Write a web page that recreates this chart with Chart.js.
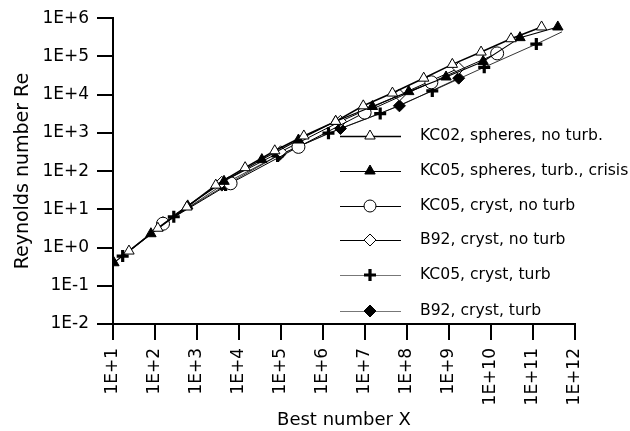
<!DOCTYPE html>
<html>
<head>
<meta charset="utf-8">
<script src="https://cdn.jsdelivr.net/npm/chart.js@4/dist/chart.umd.min.js"></script>
<style>
  html, body { margin: 0; padding: 0; background: #fff; overflow: hidden; }
  #wrap { width: 630px; height: 431px; }
</style>
</head>
<body>
<div id="wrap"><canvas id="reChart"></canvas></div>
<script>
// tick labels
const xTickLabels = ['1E+1','1E+2','1E+3','1E+4','1E+5','1E+6','1E+7','1E+8','1E+9','1E+10','1E+11','1E+12'];
const yTickLabels = ['1E-2','1E-1','1E+0','1E+1','1E+2','1E+3','1E+4','1E+5','1E+6'];

// KC02, spheres, no turb.
const kc02X = [24, 117, 575, 2800, 1.4e4, 7.1e4, 3.5e5, 2.0e6, 9.1e6, 4.5e7, 2.5e8, 1.2e9, 5.8e9, 3.0e10, 1.6e11];
const kc02Re = [0.81, 3.2, 11.5, 43, 123, 340, 830, 2000, 5100, 1.1e4, 2.7e4, 6.2e4, 1.3e5, 2.9e5, 5.9e5];

// KC05, spheres, turb., crisis
const kc05SphX = [10.5, 80, 600, 4400, 3.5e4, 2.6e5, 2.0e6, 1.5e7, 1.1e8, 8.5e8, 6.5e9, 4.9e10, 3.9e11];
const kc05SphRe = [0.40, 2.3, 12.3, 54, 200, 650, 2000, 4900, 1.2e4, 2.9e4, 7.4e4, 3.1e5, 5.9e5];

// KC05, cryst, no turb
const kc05CrystX = [155, 6300, 2.6e5, 9.8e6, 3.8e8, 1.4e10];
const kc05CrystRe = [4.2, 48, 430, 3400, 2.1e4, 1.2e5];

// B92, cryst, no turb
const b92X = [155, 3900, 9.8e4, 2.6e6, 6.6e7, 1.7e9];
const b92Re = [4.5, 51, 320, 2000, 9800, 4.9e4];

// KC05, cryst, turb (last point is the line end, no marker)
const kc05TurbX = [17, 280, 4800, 8.3e4, 1.35e6, 2.3e7, 4.0e8, 6.9e9, 1.2e11, 4.9e11];
const kc05TurbRe = [0.60, 6.4, 43, 250, 980, 3200, 1.25e4, 5.2e4, 2.1e5, 4.4e5];

// B92, cryst, turb
const b92TurbX = [155, 3900, 9.3e4, 2.6e6, 6.6e7, 1.7e9];
const b92TurbRe = [4.0, 43, 270, 1300, 5100, 2.7e4];

const toPts = (xs, ys) => xs.map((x, i) => ({ x: x, y: ys[i] }));

const FONT = 'DejaVu Sans';

const datasets = [
  { label: 'KC02, spheres, no turb.', data: toPts(kc02X, kc02Re),
    pointStyle: 'triangle', pointRadius: 6, backgroundColor: '#fff', borderColor: '#000',
    pointBorderWidth: 1, borderWidth: 1.6 },
  { label: 'KC05, spheres, turb., crisis', data: toPts(kc05SphX, kc05SphRe),
    pointStyle: 'triangle', pointRadius: 6, backgroundColor: '#000', borderColor: '#000',
    pointBorderWidth: 1, borderWidth: 1.1 },
  { label: 'KC05, cryst, no turb', data: toPts(kc05CrystX, kc05CrystRe),
    pointStyle: 'circle', pointRadius: 6.5, backgroundColor: '#fff', borderColor: '#000',
    pointBorderWidth: 1, borderWidth: 1 },
  { label: 'B92, cryst, no turb', data: toPts(b92X, b92Re),
    pointStyle: 'rectRot', pointRadius: 6, backgroundColor: '#fff', borderColor: '#000',
    pointBorderWidth: 1, borderWidth: 1 },
  { label: 'KC05, cryst, turb', data: toPts(kc05TurbX, kc05TurbRe),
    pointStyle: 'cross', backgroundColor: '#000', borderColor: '#000',
    pointRadius: c => (c.dataIndex === kc05TurbX.length - 1 ? 0 : 6),
    pointBorderWidth: 3.2, borderWidth: 0.8 },
  { label: 'B92, cryst, turb', data: toPts(b92TurbX, b92TurbRe),
    pointStyle: 'rectRot', pointRadius: 6, backgroundColor: '#000', borderColor: '#000',
    pointBorderWidth: 1, borderWidth: 0.8 }
];

// legend drawn inside the plot area, one row per series
const insideLegend = {
  id: 'insideLegend',
  afterDraw(chart) {
    const ctx = chart.ctx;
    const rows = [136, 171, 206, 240, 275, 311];
    ctx.save();
    chart.data.datasets.forEach((ds, i) => {
      const y = rows[i];
      ctx.beginPath();
      ctx.strokeStyle = ds.borderWidth < 1 ? '#777' : '#000';
      ctx.lineWidth = ds.borderWidth < 1 ? 1 : ds.borderWidth;
      ctx.moveTo(340, y + 0.5);
      ctx.lineTo(401, y + 0.5);
      ctx.stroke();
      ctx.fillStyle = ds.backgroundColor;
      ctx.strokeStyle = '#000';
      ctx.lineWidth = ds.pointBorderWidth;
      Chart.helpers.drawPoint(ctx, {
        pointStyle: ds.pointStyle, radius: 6, rotation: 0,
        borderWidth: ds.pointBorderWidth
      }, 370, y);
      ctx.fillStyle = '#000';
      ctx.font = '15.6px "' + FONT + '"';
      ctx.textBaseline = 'middle';
      ctx.textAlign = 'left';
      ctx.fillText(ds.label, 420, y);
    });
    ctx.restore();
  }
};

const decades = (lo, hi) => { const t = []; for (let e = lo; e <= hi; e++) t.push({ value: Math.pow(10, e) }); return t; };

new Chart(document.getElementById('reChart'), {
  type: 'line',
  data: { datasets: datasets },
  options: {
    responsive: true,
    maintainAspectRatio: false,
    animation: false,
    layout: { padding: { top: 13, right: 55, left: 0, bottom: 0 } },
    plugins: { legend: { display: false }, tooltip: { enabled: false } },
    elements: { line: { tension: 0 } },
    scales: {
      x: {
        type: 'logarithmic', min: 1e1, max: 1e12,
        afterBuildTicks: s => { s.ticks = decades(1, 12); },
        afterFit: s => { s.height = 107; },
        ticks: {
          autoSkip: false, minRotation: 90, maxRotation: 90, padding: 8,
          color: '#000', font: { family: FONT, size: 17 },
          callback: (v, i) => xTickLabels[i]
        },
        grid: { drawOnChartArea: false, tickLength: 16, color: '#000', lineWidth: 2 },
        border: { color: '#000', width: 2 },
        title: { display: true, text: 'Best number X', color: '#000',
          font: { family: FONT, size: 18 }, padding: { top: 0, bottom: 0 } }
      },
      y: {
        type: 'logarithmic', min: 1e-2, max: 1e6,
        afterBuildTicks: s => { s.ticks = decades(-2, 6); },
        afterFit: s => { s.width = 113; },
        ticks: {
          autoSkip: false, padding: 8,
          color: '#000', font: { family: FONT, size: 17 },
          callback: (v, i) => yTickLabels[i]
        },
        grid: { drawOnChartArea: false, tickLength: 16, color: '#000', lineWidth: 2 },
        border: { color: '#000', width: 2 },
        title: { display: true, text: 'Reynolds number Re', color: '#000',
          font: { family: FONT, size: 19 }, padding: { top: 12, bottom: 0 } }
      }
    }
  },
  plugins: [insideLegend]
});
</script>
</body>
</html>
